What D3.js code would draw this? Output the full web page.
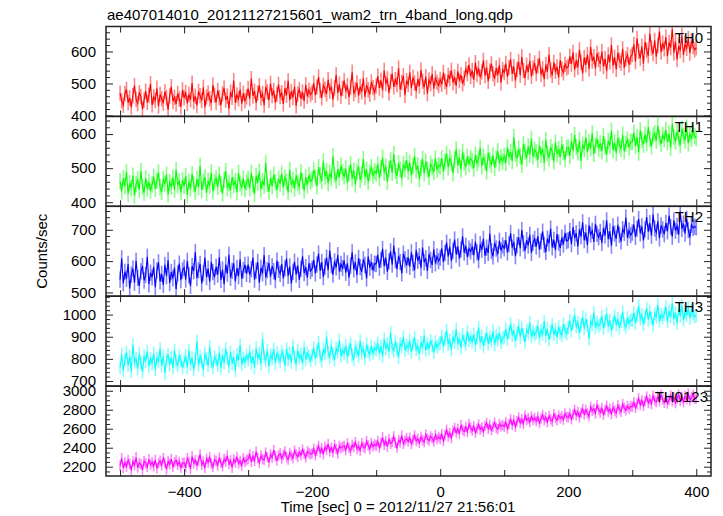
<!DOCTYPE html>
<html><head><meta charset="utf-8">
<script src="https://cdn.jsdelivr.net/npm/d3@7"></script>
<style>body{margin:0;background:#fff} text{font-family:"Liberation Sans",Arial,Helvetica,sans-serif;fill:#000}</style>
</head><body><svg id="c" width="723" height="516"></svg>
<script>
const titleText = "ae407014010_20121127215601_wam2_trn_4band_long.qdp";
const xLabel = "Time [sec] 0 = 2012/11/27 21:56:01";
const yLabel = "Counts/sec";
const bandNames = ["TH0", "TH1", "TH2", "TH3", "TH0123"];
const timeStart = -500, timeStep = 2.5;

const th0 = [
470,445,432,468,481,440,455,426,462,493,450,437,471,459,420,448,476,441,463,499,
433,458,447,485,429,466,452,438,474,455,418,461,490,444,457,436,469,451,427,480,
455,472,438,466,449,501,443,460,431,475,462,447,488,426,458,470,452,439,495,463,
441,478,455,432,467,486,448,461,421,473,457,509,440,464,452,481,437,469,446,458,
484,452,515,461,476,439,470,493,455,468,432,489,474,447,500,462,478,441,466,497,
459,471,436,485,463,508,448,475,456,490,430,467,481,452,473,445,496,460,479,465,
472,501,463,489,520,478,455,494,482,467,512,476,491,449,486,527,470,498,460,484,
509,475,493,457,488,535,468,481,502,462,490,474,516,458,495,480,466,505,487,471,
492,523,486,510,478,541,499,515,470,506,530,489,512,496,548,481,503,524,463,509,
497,535,485,519,502,476,514,492,542,507,488,521,468,511,499,530,483,517,504,494,
512,497,534,506,489,525,515,541,503,520,492,538,509,527,499,516,545,531,558,522,
540,511,565,528,547,519,536,572,524,550,507,539,561,530,515,548,526,557,502,543,
534,562,521,549,575,530,553,509,544,568,526,583,540,517,557,536,571,522,548,564,
531,555,578,528,546,513,559,537,590,542,525,566,538,552,519,573,545,533,560,548,
552,585,560,597,543,572,550,605,566,531,581,558,590,545,614,570,584,547,594,575,
561,600,553,578,538,589,567,620,556,582,544,596,572,563,608,549,577,590,558,583,
590,622,568,641,600,579,616,562,630,604,587,656,611,593,635,584,619,662,598,626,
608,645,585,628,612,670,596,631,575,617,603,650,589,624,610,640,595,633,615,605,
612];
const th1 = [
461,432,470,447,489,425,456,441,478,419,453,467,436,491,446,428,471,440,459,434,
452,475,439,463,487,444,430,468,455,481,423,458,446,472,437,495,450,462,429,465,
447,477,421,460,440,483,452,431,468,444,506,436,460,473,427,463,448,487,432,459,
471,445,482,453,426,466,491,441,457,435,474,450,462,429,486,455,443,470,438,458,
468,441,486,453,424,477,457,490,438,462,449,516,454,431,471,447,481,458,436,469,
455,484,443,472,460,429,495,451,466,439,478,457,446,488,462,434,473,450,480,461,
467,494,473,447,503,479,462,520,475,492,456,486,471,535,480,463,497,473,507,488,
476,499,458,484,511,470,493,452,489,505,466,481,527,474,496,460,487,503,478,491,
484,511,471,500,531,487,505,460,497,523,486,541,492,477,514,496,470,511,498,524,
490,516,479,506,535,494,508,468,501,527,485,519,497,474,512,503,488,529,495,509,
504,529,489,520,542,502,531,516,485,525,555,508,531,496,548,517,503,534,512,529,
521,499,540,514,527,560,506,533,518,491,545,523,510,537,501,528,550,515,532,520,
537,516,561,532,548,521,591,543,528,557,535,510,570,549,529,564,540,586,534,554,
546,525,568,539,557,515,583,544,530,562,548,520,575,541,556,533,569,547,526,559,
561,536,579,551,597,562,546,581,521,569,556,590,547,576,559,602,542,567,586,558,
573,550,594,563,540,580,566,610,553,575,545,588,568,557,598,549,572,584,561,577,
577,604,565,591,546,611,583,569,599,574,621,586,564,596,603,581,624,590,571,597,
585,612,576,601,560,630,592,579,607,588,568,615,595,582,619,573,600,587,610,594,
588];
const th2 = [
541,609,529,566,544,591,513,557,576,531,601,547,521,567,584,538,556,614,526,563,
548,582,517,570,596,535,559,524,588,552,603,530,565,545,579,510,561,592,539,570,
579,541,601,554,521,584,568,629,546,571,591,529,561,611,549,576,534,597,565,549,
582,557,612,540,573,526,589,560,620,547,569,593,535,578,552,606,543,571,588,559,
589,556,574,611,541,569,597,531,579,561,619,548,571,594,550,584,568,539,602,572,
560,591,545,577,608,553,583,529,566,598,557,586,540,575,615,562,581,547,593,568,
576,604,561,589,624,569,597,549,582,611,571,634,587,557,599,580,619,567,591,578,
602,563,593,547,585,628,574,596,556,610,581,566,606,588,545,615,579,597,570,592,
591,621,579,604,639,584,611,566,599,631,589,649,603,574,617,597,561,624,606,587,
612,582,628,594,571,635,601,616,578,643,596,609,569,622,604,588,638,593,615,600,
611,641,597,626,659,614,646,601,633,669,621,647,608,637,679,627,649,613,640,631,
645,619,662,628,603,654,636,671,617,643,626,688,632,615,658,640,622,665,634,650,
641,667,628,654,689,643,661,616,651,677,641,699,656,633,667,650,684,626,659,671,
646,680,637,663,694,652,629,672,657,704,644,668,635,686,659,642,675,653,690,664,
667,696,654,709,673,689,646,701,679,724,667,691,651,714,685,697,661,719,687,676,
693,658,705,682,730,670,695,649,711,688,672,716,684,663,702,690,739,675,698,683,
691,717,677,704,734,689,711,666,701,741,694,721,681,749,704,691,727,673,714,701,
686,722,695,745,709,678,730,697,712,684,758,703,720,688,735,699,676,716,706,710,
708];
const th3 = [
761,819,746,796,829,771,811,744,864,786,801,756,824,781,741,813,789,834,766,801,
778,825,752,803,790,845,768,812,735,797,820,774,806,759,838,785,770,815,793,760,
786,814,761,839,776,804,751,796,879,771,811,791,749,824,801,771,854,786,761,809,
795,770,828,758,817,783,845,802,765,831,779,808,748,820,794,862,775,803,787,815,
796,834,781,811,761,849,801,824,776,889,811,791,839,766,817,801,844,781,827,806,
790,832,815,770,846,798,823,785,858,809,775,837,804,819,780,852,797,826,812,793,
816,849,801,834,874,811,791,844,823,899,829,806,859,821,796,847,831,884,813,839,
825,860,808,842,870,818,797,853,836,812,881,828,845,803,866,833,819,857,826,848,
839,871,826,857,811,889,846,867,831,919,849,836,879,846,806,869,856,899,839,861,
848,883,830,866,895,842,858,822,874,851,905,838,869,845,884,860,829,877,853,866,
871,904,856,889,929,866,884,841,899,876,934,869,891,851,909,881,866,924,884,897,
878,912,862,895,941,873,902,858,890,917,868,899,880,926,863,905,886,918,875,893,
899,934,889,919,959,906,929,881,914,949,899,939,909,876,929,916,964,901,924,909,
921,948,894,930,912,968,903,937,886,922,955,910,933,897,944,918,905,958,926,913,
941,974,926,959,999,946,964,916,954,989,936,979,951,891,969,954,1009,941,964,949,
958,992,937,970,1003,947,975,928,962,996,953,981,940,970,1012,956,944,985,962,975,
974,1009,961,994,1039,981,999,956,989,1029,976,1014,984,951,1004,991,1044,971,999,986,
1002,1035,968,1016,990,1052,979,1008,962,1025,993,1041,975,1011,997,1030,983,1019,1005,990,
995];
const th0123 = [
2211,2289,2186,2244,2201,2269,2231,2161,2254,2216,2299,2191,2239,2226,2166,2259,2236,2196,2279,2221,
2248,2205,2270,2183,2235,2262,2214,2290,2240,2172,2256,2225,2281,2200,2245,2268,2219,2251,2190,2238,
2241,2196,2289,2251,2176,2309,2236,2269,2216,2264,2329,2221,2254,2186,2284,2246,2299,2231,2196,2274,
2260,2215,2295,2240,2205,2282,2253,2318,2228,2266,2190,2277,2245,2301,2233,2262,2212,2288,2250,2270,
2281,2329,2251,2309,2261,2359,2291,2241,2319,2281,2271,2349,2301,2246,2329,2296,2374,2311,2266,2319,
2340,2285,2325,2360,2300,2275,2345,2318,2290,2370,2330,2305,2352,2320,2380,2335,2298,2362,2345,2330,
2341,2389,2321,2369,2419,2351,2394,2331,2409,2376,2439,2361,2399,2351,2429,2386,2341,2419,2396,2409,
2420,2375,2445,2398,2365,2430,2405,2460,2388,2415,2370,2448,2410,2395,2470,2425,2385,2450,2412,2435,
2421,2469,2401,2449,2509,2431,2469,2411,2489,2441,2459,2519,2451,2401,2479,2456,2529,2441,2476,2499,
2465,2505,2440,2485,2530,2470,2495,2450,2515,2480,2460,2540,2495,2475,2520,2500,2465,2535,2490,2515,
2491,2544,2471,2529,2589,2519,2554,2501,2579,2609,2559,2599,2546,2639,2589,2571,2619,2566,2649,2609,
2580,2625,2560,2600,2645,2590,2615,2570,2630,2660,2600,2640,2585,2620,2665,2610,2595,2650,2625,2640,
2621,2669,2601,2649,2699,2641,2689,2621,2679,2719,2661,2699,2651,2739,2689,2711,2671,2729,2691,2714,
2680,2725,2660,2705,2745,2690,2720,2670,2735,2700,2675,2755,2715,2690,2740,2710,2730,2695,2760,2725,
2721,2759,2701,2749,2799,2741,2779,2721,2769,2809,2751,2799,2761,2731,2829,2789,2809,2761,2849,2799,
2770,2815,2750,2795,2840,2780,2810,2755,2825,2790,2765,2845,2805,2780,2860,2820,2795,2840,2810,2835,
2831,2879,2821,2859,2919,2851,2899,2841,2889,2939,2871,2909,2861,2949,2899,2881,2939,2891,2959,2909,
2875,2925,2865,2905,2950,2890,2930,2870,2915,2960,2895,2935,2880,2945,2910,2970,2900,2930,2955,2915,
2920];
const errors = [24, 24, 26, 30, 55];

const xDomain = [-522, 423];
const xMajorTicks = [-400, -200, 0, 200, 400];
const xMinorTicks = [-500, -300, -100, 100, 300];
const yDomains = [[397, 678], [388, 652], [488, 775], [677, 1083], [2102, 3049]];
const yMajorTicks = [[400, 500, 600], [400, 500, 600], [500, 600, 700], [700, 800, 900, 1000], [2200, 2400, 2600, 2800, 3000]];
const yMinorStep = [20, 20, 20, 20, 50];
const colors = ["#ff0000", "#00ff00", "#0000ff", "#00ffff", "#ff00ff"];

const series = [th0, th1, th2, th3, th0123];

const svg = d3.select("#c");
const L = 106, R = 711, T = 26.5, B = 476;
const ph = (B - T) / 5;
const x = d3.scaleLinear().domain(xDomain).range([L, R]);
const fontSize = 15;
const frameColor = "#222";
const barW = x(timeStep) - x(0);

svg.append("text").attr("x", 107).attr("y", 20).attr("font-size", fontSize).text(titleText);
svg.append("text").attr("transform", `translate(47,${(T + B) / 2}) rotate(-90)`)
  .attr("text-anchor", "middle").attr("font-size", fontSize).text(yLabel);
svg.append("text").attr("x", 398).attr("y", 512).attr("text-anchor", "middle")
  .attr("font-size", fontSize).text(xLabel);

const labelRight = [703, 703, 703, 703, 708];
const fmtTick = d => d < 0 ? "\u2212" + Math.abs(d) : String(d);

series.forEach((vals, i) => {
  const top = T + i * ph, bot = top + ph;
  const y = d3.scaleLinear().domain(yDomains[i]).range([bot, top]);
  const g = svg.append("g");
  const clipId = "clip" + i;
  svg.append("clipPath").attr("id", clipId).append("rect")
    .attr("x", L).attr("y", top).attr("width", R - L).attr("height", ph);
  const pts = vals.map((v, k) => ({t: timeStart + k * timeStep, v}));
  const dg = g.append("g").attr("clip-path", `url(#${clipId})`);
  const e = errors[i];
  dg.append("g").selectAll("rect").data(pts).join("rect")
    .attr("x", p => x(p.t) - barW / 2).attr("width", barW)
    .attr("y", p => y(p.v + e)).attr("height", p => y(p.v - e) - y(p.v + e))
    .attr("fill", colors[i]).attr("fill-opacity", 0.48);
  dg.append("path").datum(pts)
    .attr("d", d3.line().x(p => x(p.t)).y(p => y(p.v)))
    .attr("stroke", colors[i]).attr("stroke-width", 1.1).attr("fill", "none");

  const minor = d3.range(yDomains[i][0] - (yDomains[i][0] % yMinorStep[i]) + yMinorStep[i], yDomains[i][1], yMinorStep[i])
    .filter(v => !yMajorTicks[i].includes(v));
  const yl = d3.axisLeft(y).tickValues(yMajorTicks[i]).tickSize(-7).tickPadding(10).tickFormat(d3.format("d"));
  const ylm = d3.axisLeft(y).tickValues(minor).tickSize(-4).tickFormat("");
  const yr = d3.axisRight(y).tickValues(yMajorTicks[i]).tickSize(-7).tickFormat("");
  const yrm = d3.axisRight(y).tickValues(minor).tickSize(-4).tickFormat("");
  [[yl, L], [ylm, L], [yr, R], [yrm, R]].forEach(([ax, px]) => {
    const a = g.append("g").attr("transform", `translate(${px},0)`).call(ax);
    a.select(".domain").remove();
    a.selectAll("line").attr("stroke", frameColor).attr("stroke-width", 1);
    a.selectAll("text").attr("font-size", fontSize).attr("font-family", '"Liberation Sans",Arial,sans-serif').attr("fill", "#000");
  });

  const xt = d3.axisTop(x).tickValues(xMajorTicks).tickSize(-7).tickFormat("");
  const xtm = d3.axisTop(x).tickValues(xMinorTicks).tickSize(-6).tickFormat("");
  const xb = d3.axisBottom(x).tickValues(xMajorTicks).tickSize(-7).tickPadding(10)
    .tickFormat(i === 4 ? fmtTick : "");
  const xbm = d3.axisBottom(x).tickValues(xMinorTicks).tickSize(-6).tickFormat("");
  [[xt, top], [xtm, top], [xb, bot], [xbm, bot]].forEach(([ax, py]) => {
    const a = g.append("g").attr("transform", `translate(0,${py})`).call(ax);
    a.select(".domain").remove();
    a.selectAll("line").attr("stroke", frameColor).attr("stroke-width", 1);
    a.selectAll("text").attr("font-size", fontSize).attr("font-family", '"Liberation Sans",Arial,sans-serif').attr("fill", "#000");
  });
  g.append("rect").attr("x", L).attr("y", top).attr("width", R - L).attr("height", ph)
    .attr("fill", "none").attr("stroke", frameColor).attr("stroke-width", 1.5);
  g.append("text").attr("x", labelRight[i]).attr("y", top + 16).attr("text-anchor", "end")
    .attr("font-size", fontSize).text(bandNames[i]);
});
</script></body></html>
